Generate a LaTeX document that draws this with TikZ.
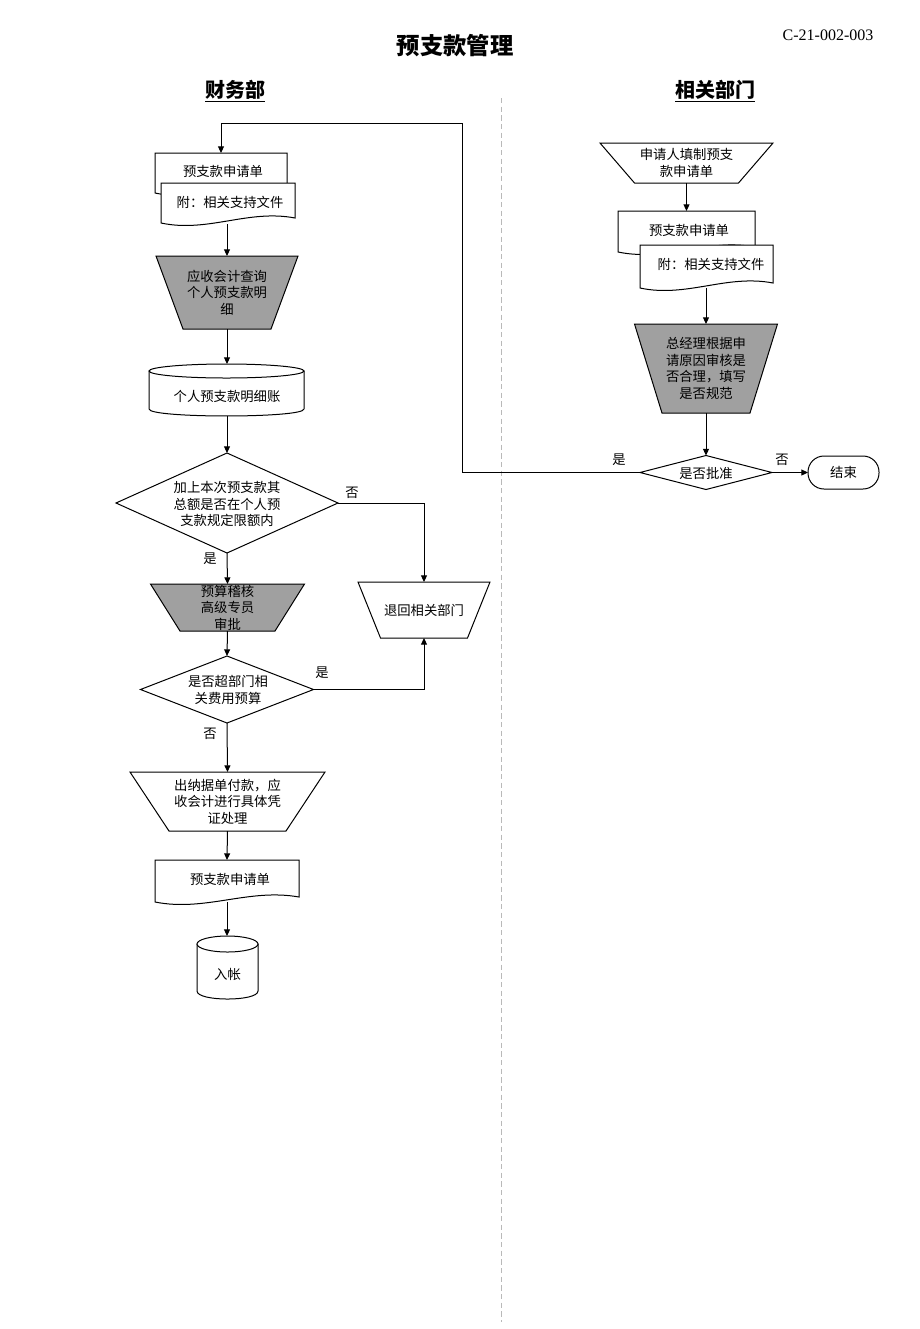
\documentclass[tikz,border=0pt]{standalone}
\usepackage{fontspec}
\setmainfont{Liberation Serif}
\newfontfamily\cjk{Noto Sans CJK SC}
\usetikzlibrary{arrows.meta,shapes.geometric}
\definecolor{shade}{RGB}{160,160,160}
\definecolor{divgray}{RGB}{185,185,185}
% trapezoid: name, cx, ytop, ybot, half top, half bottom, fill, text
\newcommand\trap[8]{%
  \draw[fill=#7] (#2-#5,#3) -- (#2+#5,#3) -- (#2+#6,#4) -- (#2-#6,#4) -- cycle;
  \coordinate (#1n) at (#2,#3);
  \coordinate (#1s) at (#2,#4);
  \node[txt] (#1) at (#2,{(#3+#4)/2}) {#8};}
% document: x1, x2, ytop, ybot
\newcommand\docpath[4]{%
  \draw[fill=white] (#1,#3) -- (#2,#3) -- (#2,#4-3)
    .. controls ({#2-0.35*(#2-#1)},#4-12) and ({#1+0.35*(#2-#1)},#4+12) .. (#1,#4+2) -- cycle;}
\begin{document}
\begin{tikzpicture}[x=0.75pt,y=-0.75pt,line width=0.75pt,
  txt/.style={font=\cjk\fontsize{10pt}{12.3pt}\selectfont, align=center, inner sep=0pt},
  lbl/.style={font=\cjk\fontsize{10pt}{12pt}\selectfont, inner sep=0pt},
  arr/.style={-{Triangle[length=5pt,width=4.5pt]}},
  dia/.style={diamond, draw, fill=white, inner sep=0pt, outer sep=0pt},
  hdr/.style={font=\cjk\bfseries\fontsize{15pt}{15pt}\selectfont, inner sep=0pt}]
\useasboundingbox (0,0) rectangle (920,1329);

% titles
\node[font=\cjk\bfseries\fontsize{17.5pt}{17.5pt}\selectfont] (title) at (455,46) {预支款管理};
\node[font=\fontsize{12pt}{12pt}\selectfont] (code) at (828,35) {C-21-002-003};
\node[hdr] (h1) at (235,91) {\underline{财务部}};
\node[hdr] (h2) at (715,91) {\underline{相关部门}};

% divider
\coordinate (divt) at (501,98);
\coordinate (divb) at (501,1322);
\draw[divgray, dash pattern=on 4pt off 2.5pt, line width=0.6pt] (divt) -- (divb);

% ---------- left column ----------
\docpath{155}{287}{153}{191}
\node[txt] (da) at (223,171) {预支款申请单};
\coordinate (dan) at (221,153);
\docpath{161}{295}{183}{221}
\node[txt] (db) at (230,202) {附：相关支持文件};
\coordinate (dbs) at (227,224);

\trap{ta}{227}{256}{329}{71}{44}{shade}{应收会计查询\\个人预支款明\\细}

% cylinder 1
\draw[fill=white] (149,371) -- (149,409) .. controls (149,418.3) and (304,418.3) .. (304,409) -- (304,371) -- cycle;
\draw[fill=white] (226.5,371) ellipse [x radius=58.125pt, y radius=5.25pt];
\node[txt] (c1) at (227,396) {个人预支款明细账};
\coordinate (c1n) at (227,364);
\coordinate (c1s) at (227,416);

\node[dia, minimum width=166.5pt, minimum height=75pt] (d1) at (227,503) {};
\node[txt] (d1t) at (227,504) {加上本次预支款其\\总额是否在个人预\\支款规定限额内};

\trap{tb}{227.5}{584}{631}{77}{47.5}{shade}{预算稽核\\高级专员\\审批}
\trap{tr}{424}{582}{638}{66}{43.5}{white}{退回相关部门}

\node[dia, minimum width=129.75pt, minimum height=50.25pt] (d2) at (227,689.5) {};
\node[txt] (d2t) at (228,690) {是否超部门相\\关费用预算};

\trap{tc}{227.5}{772}{831}{97.5}{58.5}{white}{出纳据单付款，应\\收会计进行具体凭\\证处理}

\docpath{155}{299}{860}{900}
\node[txt] (d3) at (230,879) {预支款申请单};
\coordinate (d3n) at (227,860);
\coordinate (d3s) at (227,902);

% cylinder 2
\draw[fill=white] (197,944) -- (197,991) .. controls (197,1001.7) and (258,1001.7) .. (258,991) -- (258,944) -- cycle;
\draw[fill=white] (227.5,944) ellipse [x radius=22.875pt, y radius=6pt];
\node[txt] (c2) at (227.5,974) {入帐};
\coordinate (c2n) at (227,936);

% ---------- right column ----------
\trap{ra}{686.5}{143}{183}{86.5}{52}{white}{申请人填制预支\\款申请单}

\docpath{618}{755}{211}{250}
\node[txt] (rda) at (689,230) {预支款申请单};
\coordinate (rdan) at (686.5,211);
\docpath{640}{773}{245}{286}
\node[txt] (rdb) at (711,264) {附：相关支持文件};
\coordinate (rdbs) at (706,288);

\trap{rb}{706}{324}{413}{71.5}{44}{shade}{总经理根据申\\请原因审核是\\否合理，填写\\是否规范}

\node[dia, minimum width=99pt, minimum height=25.5pt] (dz) at (706,472.5) {};
\node[txt] (dzt) at (706,473) {是否批准};

\node[draw, fill=white, rounded corners=12pt, minimum width=53.25pt, minimum height=24.75pt,
      inner sep=0pt, outer sep=0pt, font=\cjk\fontsize{10pt}{12pt}\selectfont] (end) at (843.5,472.5) {结束};

\coordinate (lp) at (462,123);

% labels
\node[lbl] (l1) at (352,493) {否};
\node[lbl] (l2) at (210,559) {是};
\node[lbl] (l3) at (322,673) {是};
\node[lbl] (l4) at (210,734) {否};
\node[lbl] (l5) at (782,460) {否};
\node[lbl] (l6) at (619,460) {是};

% connectors
\draw[arr] (dbs) -- (tan);
\draw[arr] (tas) -- (c1n);
\draw[arr] (c1s) -- (d1.north);
\draw[arr] (d1.south) -- (tbn);
\draw[arr] (d1.east) -| (trn);
\draw[arr] (tbs) -- (d2.north);
\draw[arr] (d2.east) -| (trs);
\draw[arr] (d2.south) -- (tcn);
\draw[arr] (tcs) -- (d3n);
\draw[arr] (d3s) -- (c2n);
\draw[arr] (ras) -- (rdan);
\draw[arr] (rdbs) -- (rbn);
\draw[arr] (rbs) -- (dz.north);
\draw[arr] (dz.east) -- (end.west);
\draw[arr] (dz.west) -| (lp) -| (dan);
\end{tikzpicture}
\end{document}
